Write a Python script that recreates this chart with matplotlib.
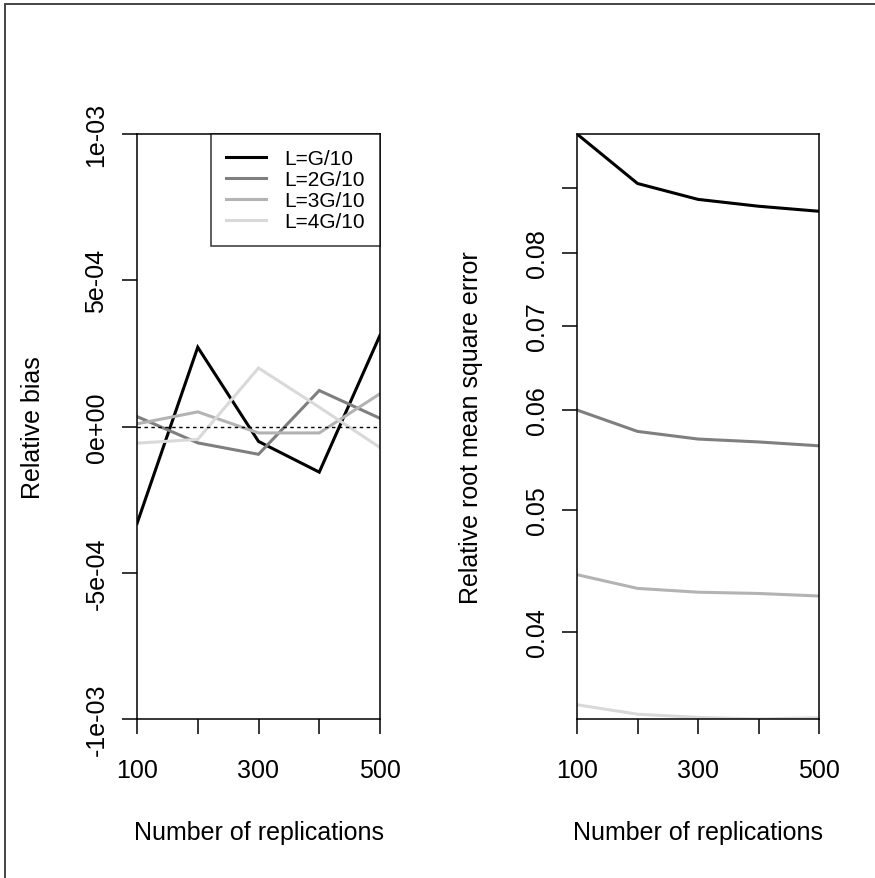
import numpy as np
import matplotlib
matplotlib.use("Agg")
import matplotlib.pyplot as plt
from matplotlib.patches import Rectangle
from matplotlib.ticker import FixedLocator, NullLocator

plt.rcParams['font.family'] = ['Liberation Sans', 'DejaVu Sans']

# number of replications
reps = [100, 200, 300, 400, 500]
labels = ["L=G/10", "L=2G/10", "L=3G/10", "L=4G/10"]
colors = ["#000000", "#7f7f7f", "#b3b3b3", "#d9d9d9"]

# relative bias
bias_g1 = [-3.32e-4, 2.71e-4, -0.51e-4, -1.56e-4, 3.12e-4]
bias_g2 = [0.34e-4, -0.56e-4, -0.95e-4, 1.23e-4, 0.28e-4]
bias_g3 = [0.09e-4, 0.50e-4, -0.22e-4, -0.22e-4, 1.12e-4]
bias_g4 = [-0.57e-4, -0.44e-4, 2.00e-4, 0.66e-4, -0.72e-4]

# relative root mean square error
rmse_g1 = [0.0994, 0.0908, 0.0882, 0.0871, 0.0863]
rmse_g2 = [0.0600, 0.0577, 0.0569, 0.0566, 0.0562]
rmse_g3 = [0.0444, 0.0433, 0.0430, 0.0429, 0.0427]
rmse_g4 = [0.0350, 0.0344, 0.0342, 0.0341, 0.03418]

bias_ticks = [-1e-3, -5e-4, 0, 5e-4, 1e-3]
bias_ticklabels = ["-1e-03", "-5e-04", "0e+00", "5e-04", "1e-03"]
rmse_ticks = [0.04, 0.05, 0.06, 0.07, 0.08, 0.09]
rmse_ticklabels = ["0.04", "0.05", "0.06", "0.07", "0.08", ""]
x_ticks = [100, 200, 300, 400, 500]
x_ticklabels = ["100", "", "300", "", "500"]

W, H = 875, 879
fig = plt.figure(figsize=(W / 100, H / 100), dpi=100)

fs = 18
lw = 2.2

def setup(ax):
    for s in ax.spines.values():
        s.set_linewidth(1.1)
    ax.set_xlim(100, 500)
    ax.xaxis.set_major_locator(FixedLocator(x_ticks))
    ax.set_xticklabels(x_ticklabels)
    ax.tick_params(axis='both', direction='out', length=11, width=1.1,
                   labelsize=fs, colors='black')
    ax.tick_params(axis='x', pad=17)
    ax.tick_params(axis='y', pad=9.5, labelrotation=90)
    for t in ax.get_yticklabels():
        t.set_va('center')

# left panel: relative bias
ax1 = fig.add_axes([137 / W, 1 - 720 / H, 243 / W, 585 / H])
bias = [bias_g1, bias_g2, bias_g3, bias_g4]
for vals, c, lab in zip(bias, colors, labels):
    ax1.plot(reps, vals, color=c, lw=lw, label=lab, solid_joinstyle='miter')
ax1.axhline(0, color='black', lw=1.0, ls=(0, (2.5, 2.5)))
ax1.set_ylim(-1e-3, 1e-3)
ax1.yaxis.set_major_locator(FixedLocator(bias_ticks))
ax1.set_yticklabels(bias_ticklabels)
setup(ax1)
leg = ax1.legend(loc='upper right', bbox_to_anchor=(1, 1), borderaxespad=0,
                 fontsize=15, frameon=True, fancybox=False, edgecolor='black',
                 handlelength=1.9, handletextpad=0.9, labelspacing=0.1,
                 borderpad=0.72)
leg.get_frame().set_linewidth(1.1)
ax1.set_xlabel("Number of replications", fontsize=fs)
ax1.xaxis.set_label_coords(0.5, -0.1726)
ax1.set_ylabel("Relative bias", fontsize=fs)
ax1.yaxis.set_label_coords(-0.38, 0.5)

# right panel: relative RMSE (log scale)
ax2 = fig.add_axes([577 / W, 1 - 720 / H, 242 / W, 585 / H])
rmse = [rmse_g1, rmse_g2, rmse_g3, rmse_g4]
for vals, c in zip(rmse, colors):
    ax2.plot(reps, vals, color=c, lw=lw)
ax2.set_yscale('log')
allv = np.concatenate(rmse)
ax2.set_ylim(allv.min(), allv.max())
ax2.yaxis.set_major_locator(FixedLocator(rmse_ticks))
ax2.yaxis.set_minor_locator(NullLocator())
ax2.set_yticklabels(rmse_ticklabels)
setup(ax2)
ax2.set_xlabel("Number of replications", fontsize=fs)
ax2.xaxis.set_label_coords(0.5, -0.1726)
ax2.set_ylabel("Relative root mean square error", fontsize=fs)
ax2.yaxis.set_label_coords(-0.39, 0.5)

# outer frame (cropped)
fig.patches.append(Rectangle((5 / W, -0.1), 1.2, 1.1 - 5 / H,
                             transform=fig.transFigure, fill=False,
                             edgecolor='#444444', lw=1.4))

fig.savefig("out.png", dpi=100)
